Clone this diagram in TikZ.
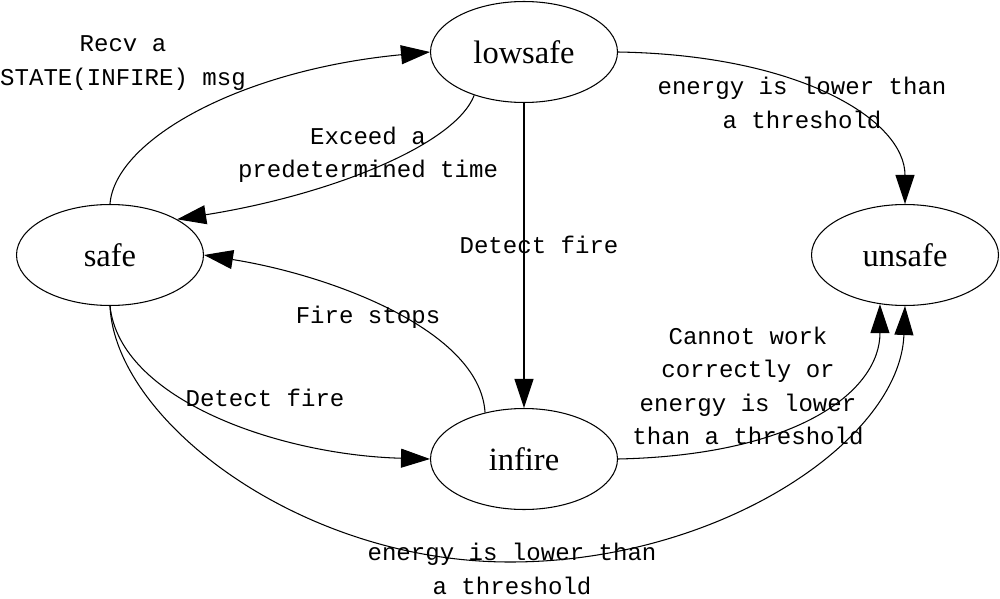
\documentclass[tikz,border=0pt]{standalone}
\usepackage{fontspec}
\setmainfont{Liberation Serif}
\newfontfamily\lblfont{Liberation Mono}
\usetikzlibrary{arrows.meta,shapes.geometric}
\begin{document}
\begin{tikzpicture}[x=0.02cm,y=-0.02cm]
      \tikzstyle{state}=[draw,ellipse,line width=0.6pt,minimum width=3.74cm,minimum height=2.02cm,inner sep=0pt,font=\fontsize{18.5}{22}\selectfont]
      \tikzstyle{edge}=[draw,line width=0.6pt,-{Triangle[length=0.58cm,width=0.38cm]}]
      \tikzstyle{lbl}=[align=center,inner sep=0pt,font=\lblfont\fontsize{13.7}{19}\selectfont]
      \useasboundingbox (0,0) rectangle (1000,598);
      \node[state] (L) at (524,52) {lowsafe};
      \node[state] (S) at (110,255) {safe};
      \node[state] (U) at (905,255) {unsafe};
      \node[state] (I) at (524,459) {infire};
      \path[edge] (S.north) .. controls (115,140) and (240,70) .. (L.west);
      \path[edge] (L.221) .. controls (455,145) and (330,195) .. (S.28);
      \path[edge] (L.south) -- (I.north);
      \path[edge] (L.east) .. controls (800,55) and (905,120) .. (U.north);
      \path[edge] (I.130) .. controls (480,330) and (330,275) .. (S.east);
      \path[edge] (S.south) .. controls (120,400) and (280,455) .. (I.west);
      \path[edge] (I.east) .. controls (800,455) and (880,390) .. (U.243);
      \path[edge] (S.south) .. controls (115,420) and (300,562) .. (510,562) .. controls (720,562) and (900,440) .. (U.south);
      \node[lbl] (recv) at (123,63) {Recv a\\STATE(INFIRE) msg};
      \node[lbl] (exceed) at (368,155) {Exceed a\\predetermined time};
      \node[lbl] (detect1) at (539,245) {Detect fire};
      \node[lbl] (lower1) at (802,103) {energy is lower than\\a threshold};
      \node[lbl] (stops) at (368,317) {Fire stops};
      \node[lbl] (detect2) at (265,398) {Detect fire};
      \node[lbl] (cannot) at (748,386) {Cannot work\\correctly or\\energy is lower\\than a threshold};
      \node[lbl] (lower2) at (512,569) {energy is lower than\\a threshold};
    \end{tikzpicture}
\end{document}
